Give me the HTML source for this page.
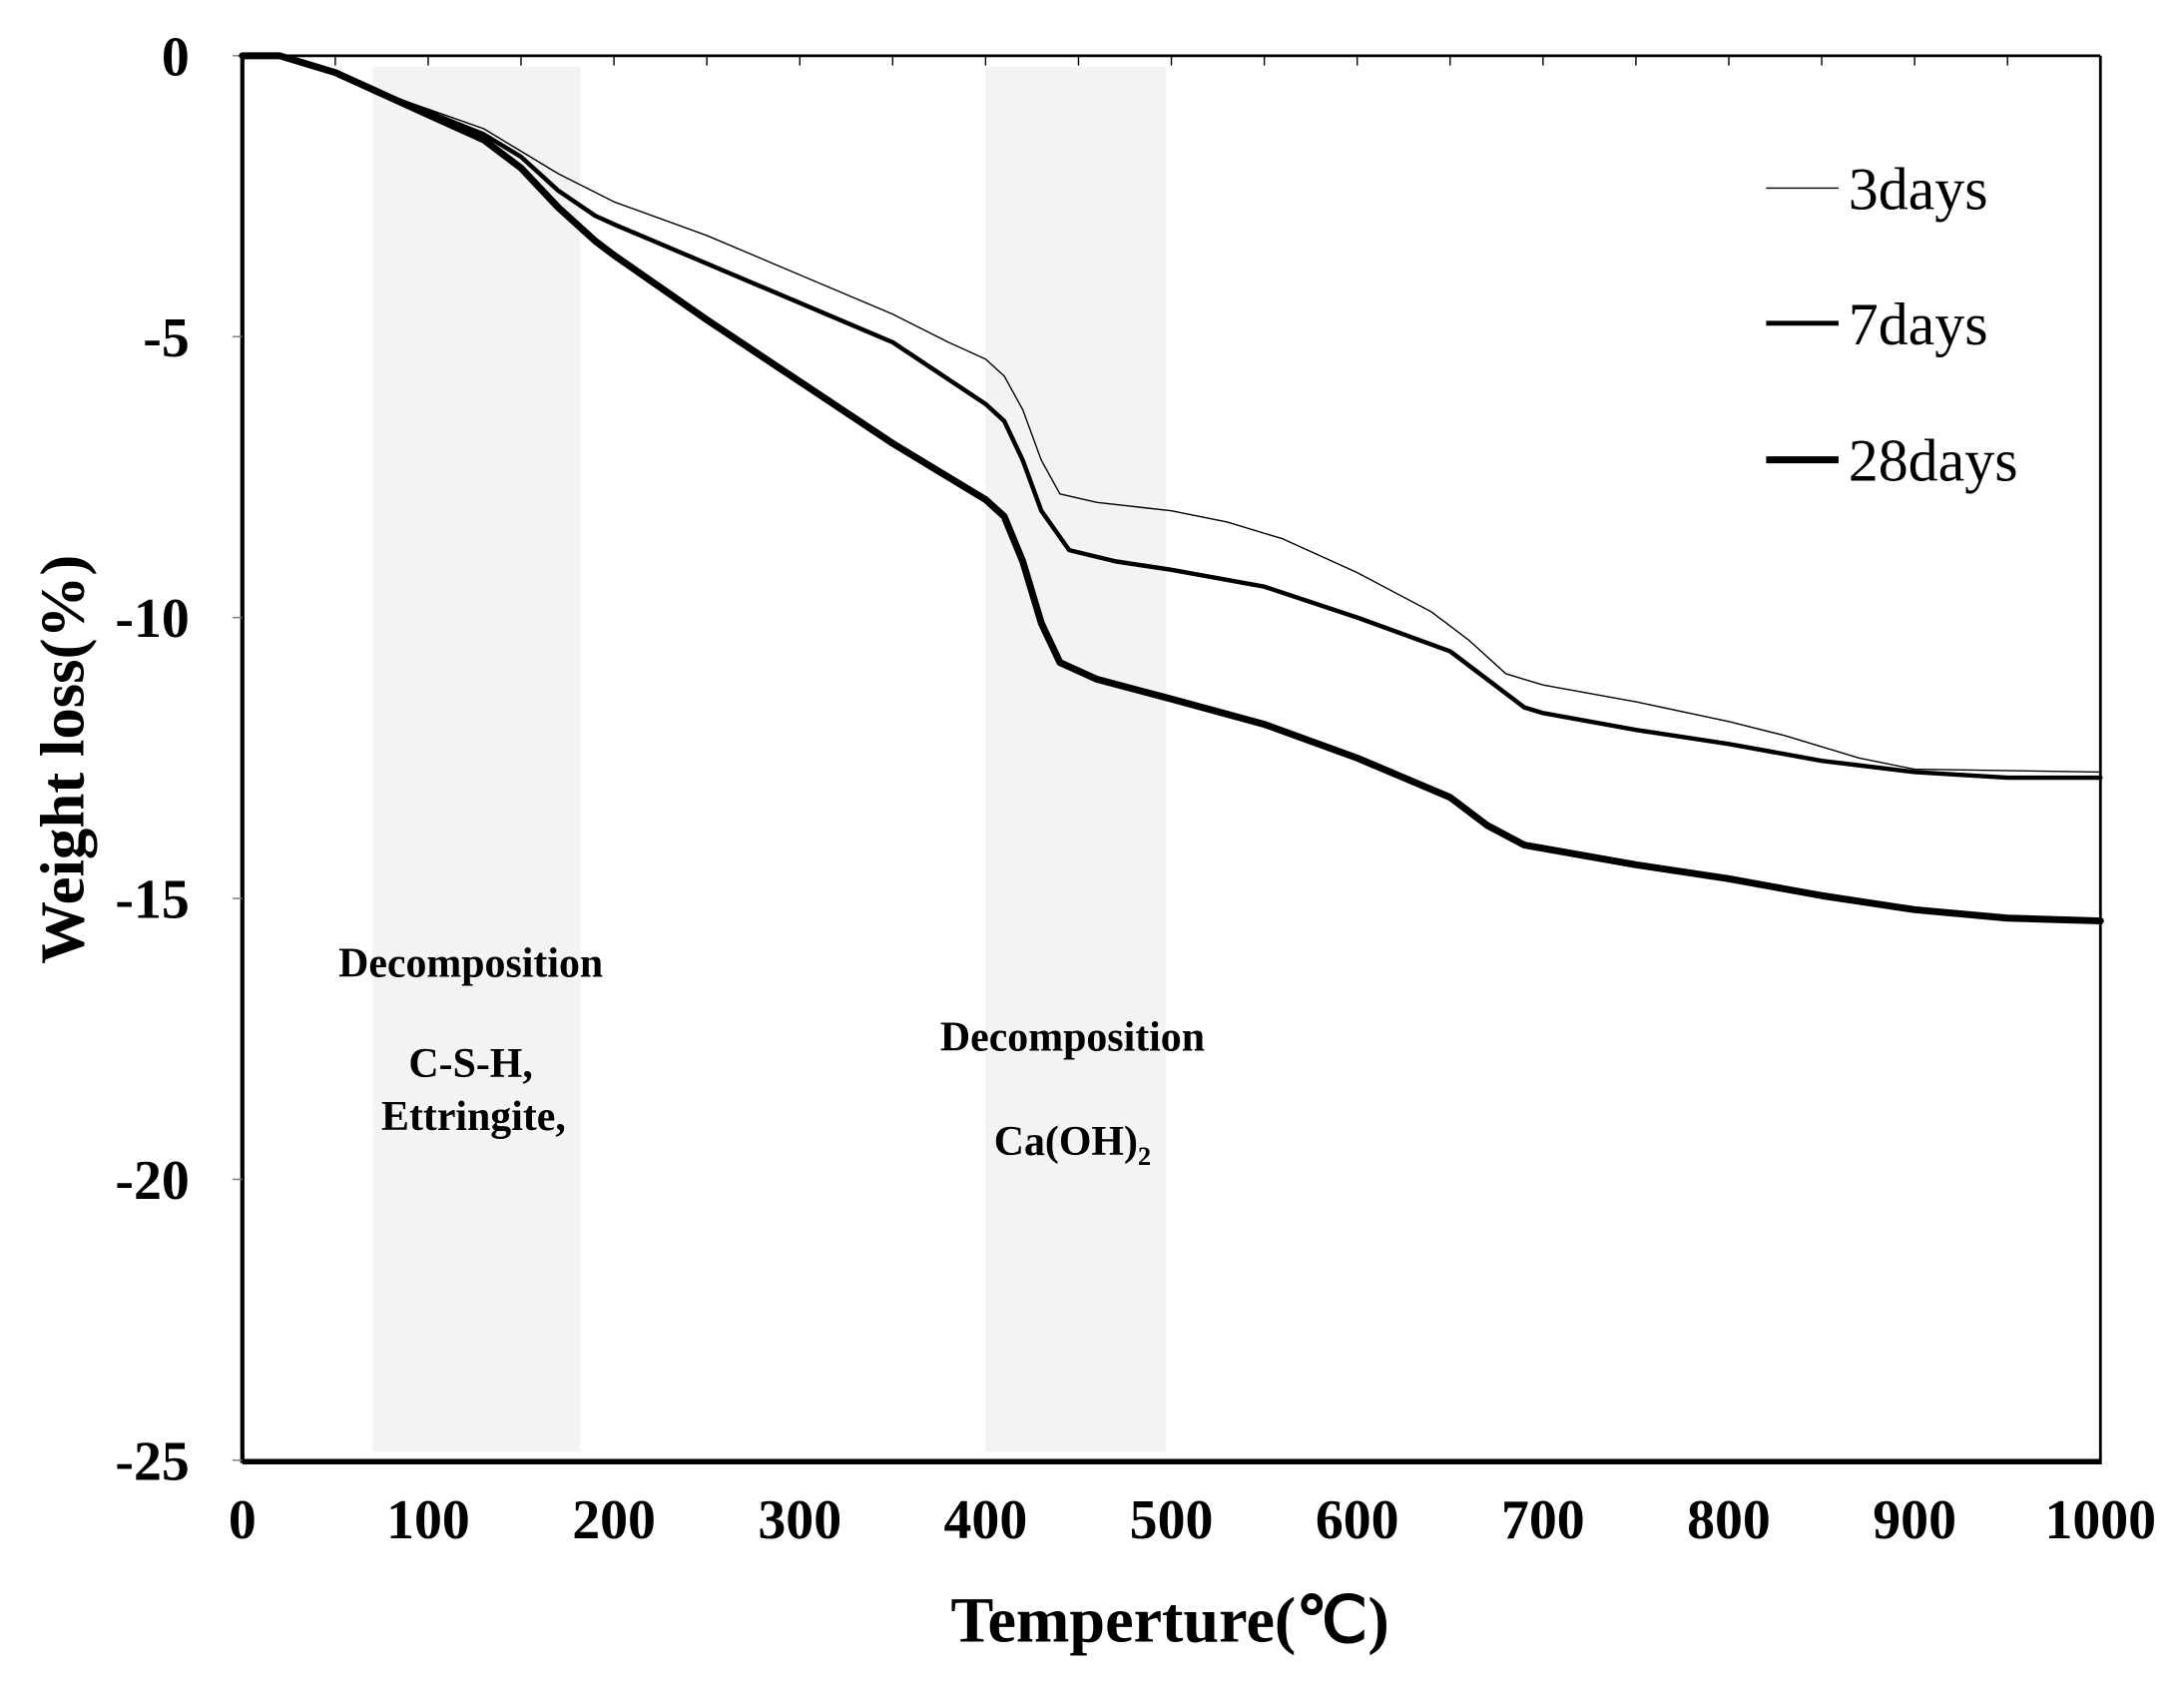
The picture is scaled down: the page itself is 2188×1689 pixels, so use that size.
<!DOCTYPE html>
<html><head><meta charset="utf-8"><style>
html,body{margin:0;padding:0;background:#fff;}
svg{display:block;}
text{font-family:"Liberation Serif",serif;font-weight:bold;fill:#000;}
</style></head><body>
<svg id="chart" width="2188" height="1689" viewBox="0 0 1568 1210" preserveAspectRatio="none" xmlns="http://www.w3.org/2000/svg">
<g id="bands"></g>
<g id="axes"></g>
<g id="series"></g>
<g id="labels"></g>
</svg>
<script>
const temps3 = [0,20,50,70,100,130,150,170,200,250,300,350,380,400,410,420,430,440,460,500,530,560,600,640,660,680,700,750,800,830,870,900,1000];
const days3 = [0,0,-0.3,-0.6,-0.95,-1.3,-1.7,-2.1,-2.6,-3.2,-3.9,-4.6,-5.1,-5.4,-5.7,-6.3,-7.2,-7.8,-7.95,-8.1,-8.3,-8.6,-9.2,-9.9,-10.4,-11.0,-11.2,-11.5,-11.85,-12.1,-12.5,-12.7,-12.75];
const temps7 = [0,20,50,70,100,130,150,170,190,200,250,300,350,400,410,420,430,445,470,500,550,600,650,670,690,700,750,800,850,900,950,1000];
const days7 = [0,0,-0.3,-0.6,-1.0,-1.4,-1.8,-2.4,-2.85,-3.0,-3.7,-4.4,-5.1,-6.2,-6.5,-7.2,-8.1,-8.8,-9.0,-9.15,-9.45,-10.0,-10.6,-11.1,-11.6,-11.7,-12.0,-12.25,-12.55,-12.75,-12.85,-12.85];
const temps28 = [0,20,50,70,100,130,150,170,190,200,250,300,350,400,410,420,430,440,460,500,550,600,650,670,690,750,800,850,900,950,1000];
const days28 = [0,0,-0.3,-0.6,-1.05,-1.5,-2.0,-2.7,-3.3,-3.55,-4.7,-5.8,-6.9,-7.9,-8.2,-9.0,-10.1,-10.8,-11.1,-11.45,-11.9,-12.5,-13.2,-13.7,-14.05,-14.4,-14.65,-14.95,-15.2,-15.35,-15.4];
const xTicks = [0,100,200,300,400,500,600,700,800,900,1000];
const yTicks = [0,-5,-10,-15,-20,-25];
const bandStarts = [70,400];
const bandEnds = [182,497];

const NS='http://www.w3.org/2000/svg';
const X0=174,X1=1508,Y0=40,Y1=1048;
const xs=t=>X0+(t-0)/(1000-0)*(X1-X0);
const ys=v=>Y0+(0-v)/(25)*(Y1-Y0);
function mk(tag,attrs,parent,txt){const e=document.createElementNS(NS,tag);for(const k in attrs)e.setAttribute(k,attrs[k]);if(txt!==undefined)e.textContent=txt;parent.appendChild(e);return e;}
const bands=document.getElementById('bands'),axes=document.getElementById('axes'),series=document.getElementById('series'),labels=document.getElementById('labels');

for(let i=0;i<bandStarts.length;i++){
  const r=mk('rect',{x:xs(bandStarts[i]),y:48,width:xs(bandEnds[i])-xs(bandStarts[i]),height:994,fill:'#f3f3f3'},bands);
  
  
}
let f=mk('line',{x1:X0,y1:Y0,x2:X1,y2:Y0,stroke:'#000','stroke-width':2},axes);

f=mk('line',{x1:X1,y1:Y0,x2:X1,y2:Y1,stroke:'#000','stroke-width':2},axes);

f=mk('line',{x1:X0,y1:Y0-1,x2:X0,y2:Y1+2,stroke:'#000','stroke-width':3},axes);

f=mk('line',{x1:X0,y1:Y1+1,x2:X1+1,y2:Y1+1,stroke:'#000','stroke-width':4},axes);

for(let t=50;t<1000;t+=50){mk('line',{x1:xs(t),y1:Y0,x2:xs(t),y2:Y0+7,stroke:'#000','stroke-width':1},axes);}
yTicks.forEach(v=>{
  mk('line',{x1:X0-7,y1:ys(v),x2:X0,y2:ys(v),stroke:'#777','stroke-width':1},axes);
  const t=mk('text',{x:136,y:ys(v)+14,'text-anchor':'end','font-size':40},labels,String(v));
  
  
});
xTicks.forEach(v=>{
  const t=mk('text',{x:xs(v),y:1104,'text-anchor':'middle','font-size':40},labels,String(v));
  
  
});
function line(tx,vals,w,name){
  const p=mk('polyline',{points:tx.map((t,i)=>xs(t)+','+ys(vals[i])).join(' '),fill:'none',stroke:'#000','stroke-width':w,'stroke-linejoin':'round','stroke-linecap':'round'},series);
  
  
}
line(temps28,days28,5,'series-28days');
line(temps7,days7,3.2,'series-7days');
line(temps3,days3,1,'series-3days');
</script>
<svg style="position:absolute;left:0;top:0" width="2188" height="1689" viewBox="0 0 1568 1210" preserveAspectRatio="none" xmlns="http://www.w3.org/2000/svg">
<g>
<line x1="1268" y1="135" x2="1320" y2="135" stroke="#000" stroke-width="1"/>
<text x="1327" y="150" font-size="43" style="font-weight:normal">3days</text>
<line x1="1268" y1="232" x2="1320" y2="232" stroke="#000" stroke-width="3.5"/>
<text x="1327" y="247" font-size="43" style="font-weight:normal">7days</text>
<line x1="1268" y1="330" x2="1320" y2="330" stroke="#000" stroke-width="5"/>
<text x="1327" y="345" font-size="43" style="font-weight:normal">28days</text>
</g>
<text x="338" y="701" font-size="30" text-anchor="middle">Decomposition</text>
<text x="338" y="773" font-size="30" text-anchor="middle">C-S-H,</text>
<text x="340" y="811" font-size="30" text-anchor="middle">Ettringite,</text>
<text x="770" y="754" font-size="30" text-anchor="middle">Decomposition</text>
<text x="770" y="829" font-size="30" text-anchor="middle">Ca(OH)<tspan font-size="19" dy="7">2</tspan></text>
<text x="840" y="1178" font-size="46" text-anchor="middle">Temperture(℃)</text>
<text transform="translate(60,545) rotate(-90)" font-size="45" text-anchor="middle">Weight loss(%)</text>
</svg>
</body></html>
